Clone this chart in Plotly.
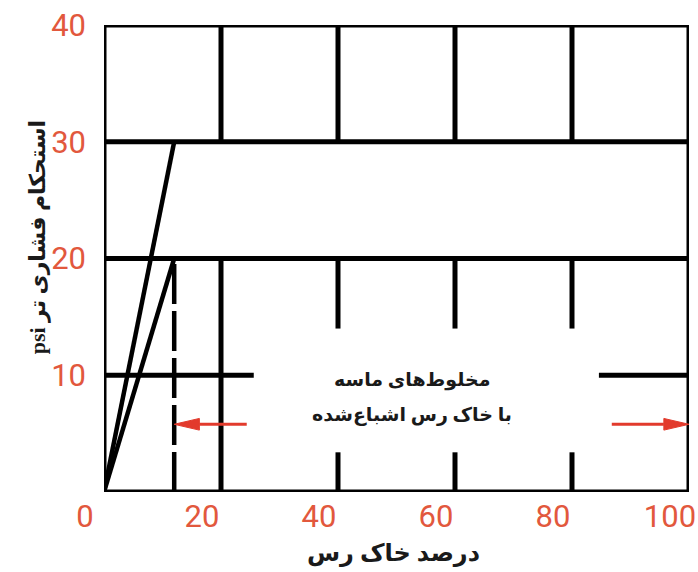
import plotly.graph_objects as go

# axis ticks
x_ticks = [0, 20, 40, 60, 80, 100]
y_ticks = [10, 20, 30, 40]

# strength lines, both start at origin and end at the clay limit
clay_limit = 12
upper_strength = 30
lower_strength = 20

# horizontal segments of the chart grid: y, x start, x end
h_y = [0, 10, 10, 20, 30, 40]
h_x0 = [0, 0, 84.6, 0, 0, 0]
h_x1 = [100, 25.6, 100, 100, 100, 100]

# vertical segments of the chart grid: x, y start, y end
v_x = [0, 100, 20, 20, 40, 40, 40, 60, 60, 60, 80, 80, 80]
v_y0 = [0, 0, 0, 30, 0, 14, 30, 0, 14, 30, 0, 14, 30]
v_y1 = [40, 40, 20, 40, 3.4, 20, 40, 3.4, 20, 40, 3.4, 20, 40]

# arrows marking the sand-clay mixture range (tail x, head x, y)
arrow_tail = [24.4, 86.8]
arrow_head = [clay_limit, 100]
arrow_y = 5.8

mix_label = ["مخلوط‌های ماسه", "با خاک رس اشباع‌شده"]
x_title = "درصد خاک رس"
y_title = "استحکام فشاری تر psi"

TICK_RED = "#e2583d"
ARROW_RED = "#e23a2c"
ARABIC_FONT = "Liberation Serif, DejaVu Sans, sans-serif"


def segments(a, b0, b1, vertical):
    """Builds a single broken line from a list of segments"""
    xs, ys = [], []
    for pos, s, e in zip(a, b0, b1):
        if vertical:
            xs += [pos, pos, None]
            ys += [s, e, None]
        else:
            xs += [s, e, None]
            ys += [pos, pos, None]
    return xs, ys


def rtl(text):
    # right-to-left embedding so latin words sit on the left
    return "\u202b" + text + "\u202c"


fig = go.Figure()

hx, hy = segments(h_y, h_x0, h_x1, False)
vx, vy = segments(v_x, v_y0, v_y1, True)
fig.add_trace(go.Scatter(x=hx + vx, y=hy + vy, mode="lines",
                         line=dict(color="black", width=5),
                         cliponaxis=False, hoverinfo="skip"))

# dashed clay limit
fig.add_trace(go.Scatter(x=[clay_limit, clay_limit], y=[0, lower_strength],
                         mode="lines", line=dict(color="black", width=4.5, dash="40px,7px"),
                         cliponaxis=False, hoverinfo="skip"))

# strength lines
for top in [upper_strength, lower_strength]:
    fig.add_trace(go.Scatter(x=[0, clay_limit], y=[0, top], mode="lines",
                             line=dict(color="black", width=4.5),
                             cliponaxis=False, hoverinfo="skip"))

# arrows: shaft plus a long narrow head
head_len = 4.3   # in x units
head_half = 0.5  # in y units
for tail, head in zip(arrow_tail, arrow_head):
    direction = 1 if head > tail else -1
    base = head - direction * head_len
    fig.add_trace(go.Scatter(x=[tail, base], y=[arrow_y, arrow_y], mode="lines",
                             line=dict(color=ARROW_RED, width=3),
                             cliponaxis=False, hoverinfo="skip"))
    fig.add_trace(go.Scatter(x=[base, head, base, base],
                             y=[arrow_y - head_half, arrow_y, arrow_y + head_half, arrow_y - head_half],
                             mode="lines", fill="toself", fillcolor=ARROW_RED,
                             line=dict(color=ARROW_RED, width=1),
                             cliponaxis=False, hoverinfo="skip"))

fig.add_annotation(x=52.6, y=9.6, text=rtl(mix_label[0]), showarrow=False,
                   font=dict(family=ARABIC_FONT, size=19, color="#1a1a1a", weight="bold"))
fig.add_annotation(x=52.6, y=6.6, text=rtl(mix_label[1]), showarrow=False,
                   font=dict(family=ARABIC_FONT, size=19, color="#1a1a1a", weight="bold"))

fig.add_annotation(x=49.5, xref="x", y=-0.165, yref="paper", text=rtl(x_title),
                   showarrow=False,
                   font=dict(family=ARABIC_FONT, size=24, color="#1a1a1a", weight="bold"))
fig.add_annotation(x=-0.137, xref="paper", y=21.8, yref="y", text=rtl(y_title),
                   showarrow=False, textangle=-90,
                   font=dict(family=ARABIC_FONT, size=22, color="#1a1a1a", weight="bold"))

tick_font = dict(family="Roboto, sans-serif", size=31, color=TICK_RED)

fig.update_xaxes(range=[0, 100], tickvals=x_ticks, ticks="", showgrid=False,
                 zeroline=False, showline=False, tickfont=tick_font,
                 ticklabelshift=-19, ticklabelstandoff=3,
                 ticklabeloverflow="allow", automargin=False)
fig.update_yaxes(range=[0, 40], tickvals=y_ticks, ticks="", showgrid=False,
                 zeroline=False, showline=False, tickfont=tick_font,
                 ticklabelstandoff=17, ticklabeloverflow="allow", automargin=False)

fig.update_layout(width=698, height=572, showlegend=False,
                  plot_bgcolor="white", paper_bgcolor="white",
                  margin=dict(l=104, r=9, t=25, b=80))

# the page body has a default margin that would push the figure off the window
fig.write_html("out.html", config={"displayModeBar": False},
               post_script="document.body.style.margin = '0';")
